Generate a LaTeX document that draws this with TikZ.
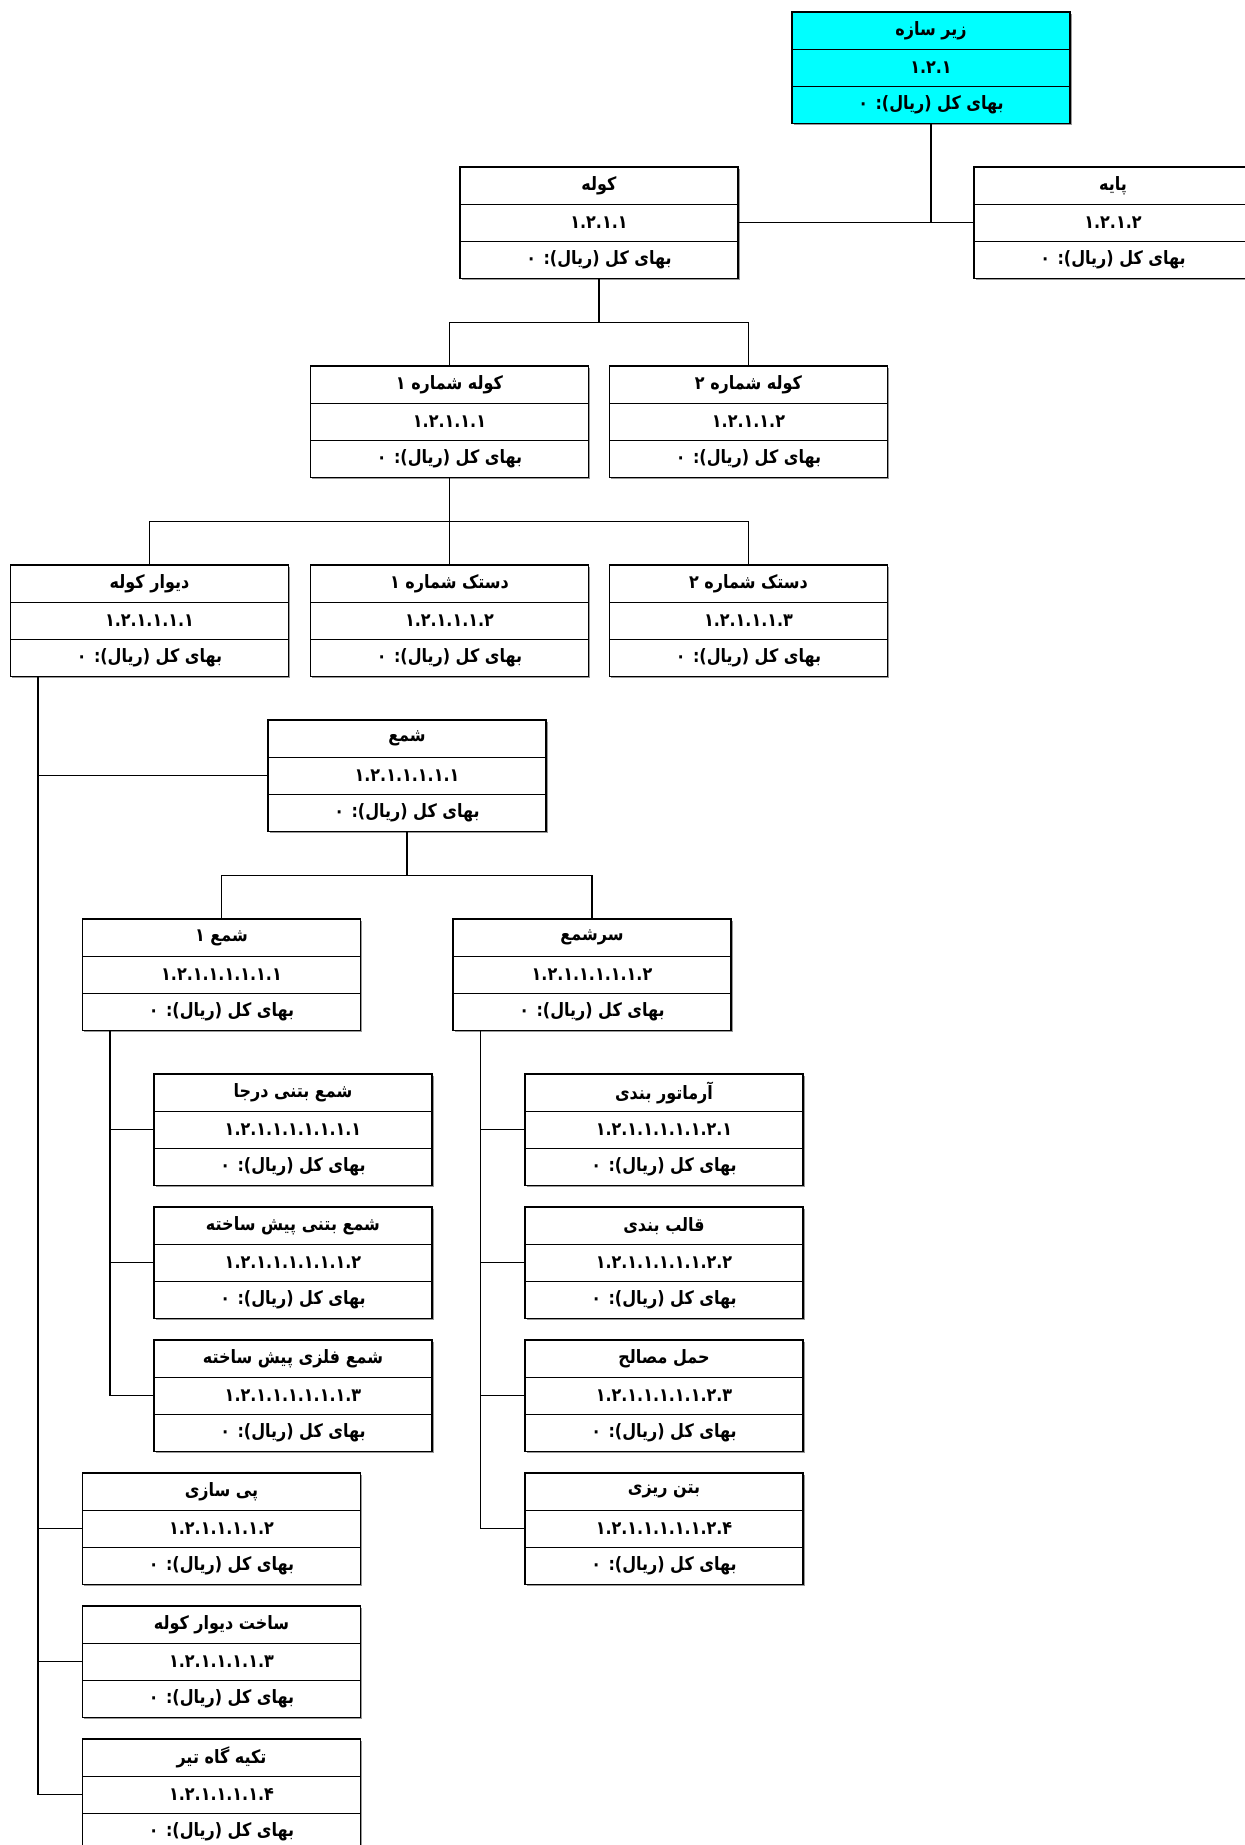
\documentclass[tikz,border=0pt]{standalone}
\usepackage{fontspec}
\usepackage{graphicx}
\newfontfamily\fa[Script=Arabic]{DejaVu Sans}
\TeXXeTstate=1
\usetikzlibrary{shadows}
\definecolor{aqua}{RGB}{0,255,255}
\tikzset{
  wbsbox/.style={draw=black, line width=0.6pt, minimum width=139pt, minimum height=55.75pt,
    inner sep=0pt, fill=white,
    drop shadow={shadow xshift=0.8pt, shadow yshift=-0.8pt, fill=black!40, opacity=1}},
  divider/.style={line width=0.6pt},
  rowtext/.style={font=\fa\bfseries\fontsize{8}{9}\selectfont, inner sep=0pt},
  conn/.style={line width=0.6pt, draw=black}
}
\newcommand\vs[1]{\scalebox{1}[1.15]{#1}}
\newcommand\wbs[6][white]{%
  \node[wbsbox, fill=#1] (#2) at (#3+139,#4+55.75) {};
  \draw[divider] (#3,#4+37.17) -- ++(278,0);
  \draw[divider] (#3,#4+74.33) -- ++(278,0);
  \node[rowtext] (#2-a) at (#3+139,#4+18.6) {\vs{#5}};
  \node[rowtext] (#2-b) at (#3+139,#4+55.75) {\vs{#6}};
  \node[rowtext] (#2-c) at (#3+139,#4+92.9) {\vs{\beginR بهای کل (ریال): ۰\endR}};
}
\begin{document}
\begin{tikzpicture}[x=0.5pt,y=-0.5pt]
\useasboundingbox (0,0) rectangle (1245,1845);
\wbs[aqua]{root}{792}{12}{\beginR زیر سازه\endR}{۱.۲.۱}
\wbs{kooleh}{460}{167}{\beginR کوله\endR}{۱.۲.۱.۱}
\wbs{payeh}{974}{167}{\beginR پایه\endR}{۱.۲.۱.۲}
\wbs{kooleh1}{310.5}{366}{\beginR کوله شماره ۱\endR}{۱.۲.۱.۱.۱}
\wbs{kooleh2}{609.5}{366}{\beginR کوله شماره ۲\endR}{۱.۲.۱.۱.۲}
\wbs{divar}{10.5}{565}{\beginR دیوار کوله\endR}{۱.۲.۱.۱.۱.۱}
\wbs{dastak1}{310.5}{565}{\beginR دستک شماره ۱\endR}{۱.۲.۱.۱.۱.۲}
\wbs{dastak2}{609.5}{565}{\beginR دستک شماره ۲\endR}{۱.۲.۱.۱.۱.۳}
\wbs{shame}{268}{720}{\beginR شمع\endR}{۱.۲.۱.۱.۱.۱.۱}
\wbs{shame1}{82.5}{919}{\beginR شمع ۱\endR}{۱.۲.۱.۱.۱.۱.۱.۱}
\wbs{sarshame}{453}{919}{\beginR سرشمع\endR}{۱.۲.۱.۱.۱.۱.۱.۲}
\wbs{sb1}{154}{1074}{\beginR شمع بتنی درجا\endR}{۱.۲.۱.۱.۱.۱.۱.۱.۱}
\wbs{sb2}{154}{1207}{\beginR شمع بتنی پیش ساخته\endR}{۱.۲.۱.۱.۱.۱.۱.۱.۲}
\wbs{sb3}{154}{1340}{\beginR شمع فلزی پیش ساخته\endR}{۱.۲.۱.۱.۱.۱.۱.۱.۳}
\wbs{ss1}{525}{1074}{\beginR آرماتور بندی\endR}{۱.۲.۱.۱.۱.۱.۱.۲.۱}
\wbs{ss2}{525}{1207}{\beginR قالب بندی\endR}{۱.۲.۱.۱.۱.۱.۱.۲.۲}
\wbs{ss3}{525}{1340}{\beginR حمل مصالح\endR}{۱.۲.۱.۱.۱.۱.۱.۲.۳}
\wbs{ss4}{525}{1473}{\beginR بتن ریزی\endR}{۱.۲.۱.۱.۱.۱.۱.۲.۴}
\wbs{pey}{82.5}{1473}{\beginR پی سازی\endR}{۱.۲.۱.۱.۱.۱.۲}
\wbs{sakht}{82.5}{1606}{\beginR ساخت دیوار کوله\endR}{۱.۲.۱.۱.۱.۱.۳}
\wbs{tekye}{82.5}{1739}{\beginR تکیه گاه تیر\endR}{۱.۲.۱.۱.۱.۱.۴}
% root
\draw[conn] (root.south) -- (root.south |- kooleh.east);
\draw[conn] (kooleh.east) -- (payeh.west);
% kooleh
\coordinate (kj) at ([yshift=-21.875pt]kooleh.south);
\draw[conn] (kooleh.south) -- (kj);
\draw[conn] (kooleh1.north) |- (kj) -| (kooleh2.north);
% kooleh1
\coordinate (k1j) at ([yshift=-21.875pt]kooleh1.south);
\draw[conn] (kooleh1.south) -- (dastak1.north);
\draw[conn] (divar.north) |- (k1j) -| (dastak2.north);
% shame
\coordinate (sj) at ([yshift=-21.875pt]shame.south);
\draw[conn] (shame.south) -- (sj);
\draw[conn] (shame1.north) |- (sj) -| (sarshame.north);
% divar side branch
\coordinate (dv) at ([xshift=14pt]divar.south west);
\draw[conn] (dv) -- (dv |- tekye.west);
\foreach \n in {shame,pey,sakht,tekye} \draw[conn] (dv |- \n.west) -- (\n.west);
% shame1 side branch
\coordinate (s1v) at ([xshift=14pt]shame1.south west);
\draw[conn] (s1v) -- (s1v |- sb3.west);
\foreach \n in {sb1,sb2,sb3} \draw[conn] (s1v |- \n.west) -- (\n.west);
% sarshame side branch
\coordinate (ssv) at ([xshift=14pt]sarshame.south west);
\draw[conn] (ssv) -- (ssv |- ss4.west);
\foreach \n in {ss1,ss2,ss3,ss4} \draw[conn] (ssv |- \n.west) -- (\n.west);
\end{tikzpicture}
\end{document}
